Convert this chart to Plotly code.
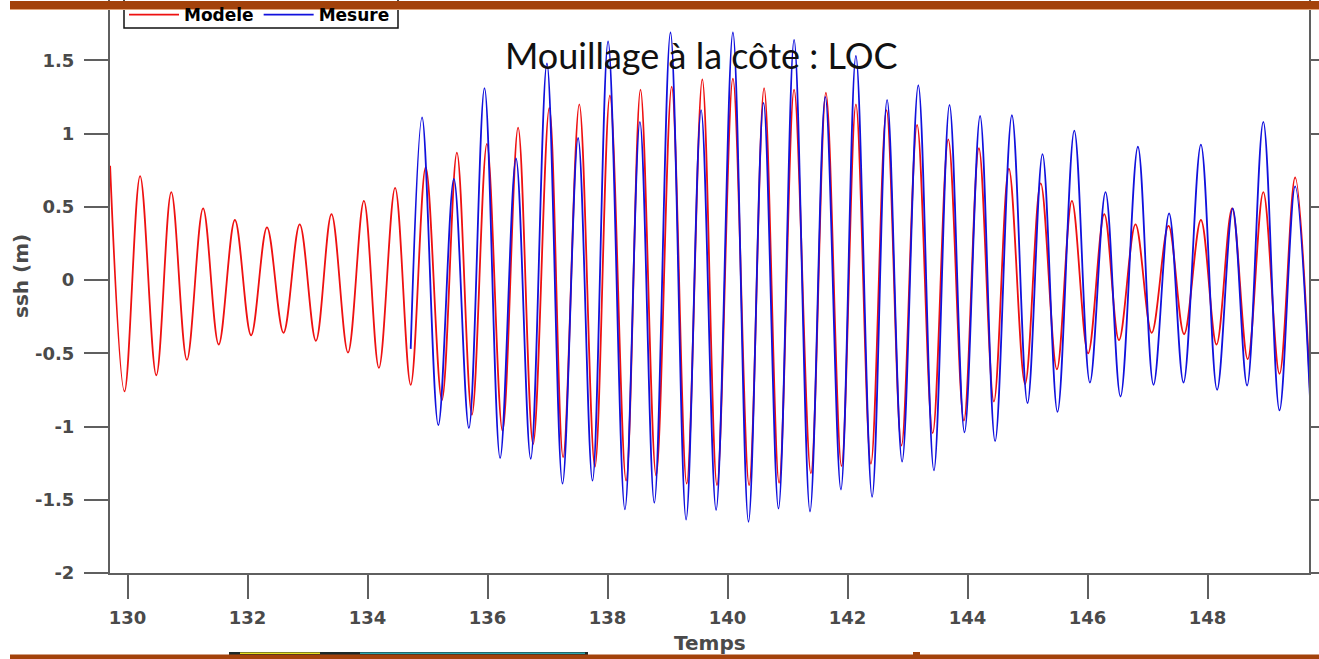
import plotly.graph_objects as go

# Tidal extrema (time in days, sea surface height in m)
modele_t = [129.71, 129.95, 130.21, 130.48, 130.73, 130.99, 131.26, 131.52, 131.79, 132.06,
            132.325, 132.60, 132.87, 133.14, 133.40, 133.675, 133.94, 134.19, 134.46, 134.72,
            134.97, 135.24, 135.49, 135.74, 135.99, 136.25, 136.51, 136.76, 137.03, 137.26,
            137.53, 137.79, 138.04, 138.31, 138.55, 138.81, 139.07, 139.32, 139.58, 139.825,
            140.09, 140.36, 140.61, 140.86, 141.11, 141.39, 141.64, 141.90, 142.14, 142.39,
            142.65, 142.90, 143.16, 143.42, 143.68, 143.94, 144.19, 144.44, 144.69, 144.96,
            145.22, 145.49, 145.74, 146.01, 146.28, 146.525, 146.80, 147.07, 147.35, 147.61,
            147.89, 148.15, 148.41, 148.67, 148.93, 149.20, 149.46, 149.71]
modele_ssh = [0.78, -0.76, 0.71, -0.65, 0.60, -0.545, 0.49, -0.44, 0.41, -0.377,
              0.36, -0.36, 0.38, -0.415, 0.45, -0.495, 0.54, -0.60, 0.63, -0.715,
              0.77, -0.82, 0.87, -0.92, 0.93, -1.03, 1.04, -1.12, 1.175, -1.21,
              1.20, -1.275, 1.26, -1.37, 1.30, -1.335, 1.32, -1.39, 1.37, -1.40,
              1.375, -1.40, 1.31, -1.385, 1.30, -1.32, 1.28, -1.27, 1.20, -1.255,
              1.16, -1.13, 1.06, -1.045, 0.96, -0.96, 0.90, -0.83, 0.76, -0.71,
              0.66, -0.61, 0.54, -0.50, 0.45, -0.41, 0.38, -0.36, 0.37, -0.37,
              0.41, -0.44, 0.49, -0.54, 0.60, -0.64, 0.70, -0.77]

mesure_t = [134.72, 134.91, 135.18, 135.44, 135.69, 135.95, 136.21, 136.475, 136.72, 136.99,
            137.25, 137.51, 137.75, 138.01, 138.29, 138.54, 138.78, 139.05, 139.31, 139.56,
            139.81, 140.09, 140.35, 140.60, 140.85, 141.11, 141.375, 141.63, 141.89, 142.14,
            142.41, 142.66, 142.91, 143.18, 143.44, 143.70, 143.95, 144.21, 144.46, 144.74,
            145.00, 145.25, 145.50, 145.78, 146.04, 146.30, 146.55, 146.84, 147.10, 147.36,
            147.60, 147.89, 148.16, 148.42, 148.66, 148.93, 149.20, 149.46, 149.71]
mesure_ssh = [-0.47, 1.11, -0.99, 0.69, -1.01, 1.31, -1.215, 0.83, -1.22, 1.48,
              -1.39, 0.97, -1.37, 1.63, -1.565, 1.08, -1.52, 1.69, -1.635, 1.16,
              -1.57, 1.69, -1.65, 1.21, -1.56, 1.64, -1.58, 1.25, -1.43, 1.53,
              -1.48, 1.23, -1.24, 1.33, -1.30, 1.195, -1.04, 1.12, -1.10, 1.125,
              -0.84, 0.86, -0.90, 1.02, -0.70, 0.60, -0.795, 0.91, -0.715, 0.455,
              -0.70, 0.925, -0.75, 0.49, -0.72, 1.08, -0.89, 0.64, -0.82]

x_ticks = [130, 132, 134, 136, 138, 140, 142, 144, 146, 148]
y_ticks = [-2, -1.5, -1, -0.5, 0, 0.5, 1, 1.5]
y_tick_labels = ["-2", "-1.5", "-1", "-0.5", "0", "0.5", "1", "1.5"]

W, H = 1319, 659
ML, MR, MT, MB = 110, 10, 0, 86
PW, PH = W - ML - MR, H - MT - MB


def px_x(p):
    return (p - ML) / PW


def px_y(p):
    return (H - MB - p) / PH


axis_col = "#5f5f5f"
label_col = "#4a4a4a"
brown = "#a3420b"

fig = go.Figure()
fig.add_trace(go.Scatter(x=modele_t, y=modele_ssh, name="Modele", mode="lines",
                         line=dict(color="#ee1111", width=1.8, shape="spline", smoothing=1.0)))
fig.add_trace(go.Scatter(x=mesure_t, y=mesure_ssh, name="Mesure", mode="lines",
                         line=dict(color="#1111dd", width=1.8, shape="spline", smoothing=1.0)))

tick_font = dict(family="DejaVu Sans", size=18, color=label_col, weight="bold")

fig.update_xaxes(range=[129.7083, 149.6917], tickvals=x_ticks, ticks="outside", ticklen=24,
                 tickwidth=1.8, tickcolor=axis_col, showline=True, linecolor=axis_col,
                 linewidth=2, mirror=False, showgrid=False, zeroline=False,
                 tickfont=tick_font, ticklabelstandoff=3, automargin=False)
fig.update_yaxes(range=[-2, 1.912], tickvals=y_ticks, ticktext=y_tick_labels, ticks="outside",
                 ticklen=24, tickwidth=1.8, tickcolor=axis_col, showline=True,
                 linecolor=axis_col, linewidth=2, mirror="ticks", showgrid=False,
                 zeroline=False, tickfont=tick_font, ticklabelstandoff=6, automargin=False)

shapes = [
    # legend frame
    dict(type="rect", xref="paper", yref="paper", x0=px_x(124), x1=px_x(398),
         y0=px_y(28), y1=px_y(-4), fillcolor="white", line=dict(color="#111111", width=1.5),
         layer="above"),
    # banner strips across the top and bottom
    dict(type="rect", xref="paper", yref="paper", x0=px_x(10), x1=px_x(1319),
         y0=px_y(9), y1=px_y(1), fillcolor=brown, line_width=0, layer="above"),
    dict(type="rect", xref="paper", yref="paper", x0=px_x(10), x1=px_x(1319),
         y0=px_y(10), y1=px_y(9), fillcolor="#e2a57a", line_width=0, layer="above"),
    dict(type="rect", xref="paper", yref="paper", x0=px_x(229), x1=px_x(588),
         y0=px_y(655), y1=px_y(652), fillcolor="#1d2a2a", line_width=0, layer="above"),
    dict(type="rect", xref="paper", yref="paper", x0=px_x(240), x1=px_x(320),
         y0=px_y(654), y1=px_y(652.5), fillcolor="#e8e020", line_width=0, layer="above"),
    dict(type="rect", xref="paper", yref="paper", x0=px_x(360), x1=px_x(585),
         y0=px_y(654), y1=px_y(652.5), fillcolor="#2aa8b0", line_width=0, layer="above"),
    dict(type="rect", xref="paper", yref="paper", x0=px_x(913), x1=px_x(920),
         y0=px_y(655), y1=px_y(652), fillcolor=brown, line_width=0, layer="above"),
    dict(type="rect", xref="paper", yref="paper", x0=px_x(10), x1=px_x(1319),
         y0=px_y(659), y1=px_y(654.5), fillcolor=brown, line_width=0, layer="above"),
]

annotations = [
    dict(text="Mouillage à la côte : LOC", xref="paper", yref="paper", x=px_x(701), y=px_y(55),
         xanchor="center", yanchor="middle", showarrow=False,
         font=dict(family="Lato", size=36, color="#111111")),
    dict(text="ssh (m)", xref="paper", yref="paper", x=px_x(21), y=px_y(276), textangle=-90,
         xanchor="center", yanchor="middle", showarrow=False,
         font=dict(family="DejaVu Sans", size=20, color=label_col, weight="bold")),
    dict(text="Temps", xref="paper", yref="paper", x=px_x(710), y=px_y(643),
         xanchor="center", yanchor="middle", showarrow=False,
         font=dict(family="DejaVu Sans", size=20, color=label_col, weight="bold")),
]

fig.update_layout(
    width=W, height=H,
    margin=dict(l=ML, r=MR, t=MT, b=MB, pad=0, autoexpand=False),
    paper_bgcolor="white", plot_bgcolor="white",
    showlegend=True,
    legend=dict(orientation="h", x=px_x(124), y=px_y(-3), xanchor="left", yanchor="top",
                bgcolor="rgba(0,0,0,0)", borderwidth=0,
                font=dict(family="DejaVu Sans", size=17, color="black", weight="bold"),
                itemwidth=50, tracegroupgap=0),
    shapes=shapes,
    annotations=annotations,
)

fig.write_html("out.html")
